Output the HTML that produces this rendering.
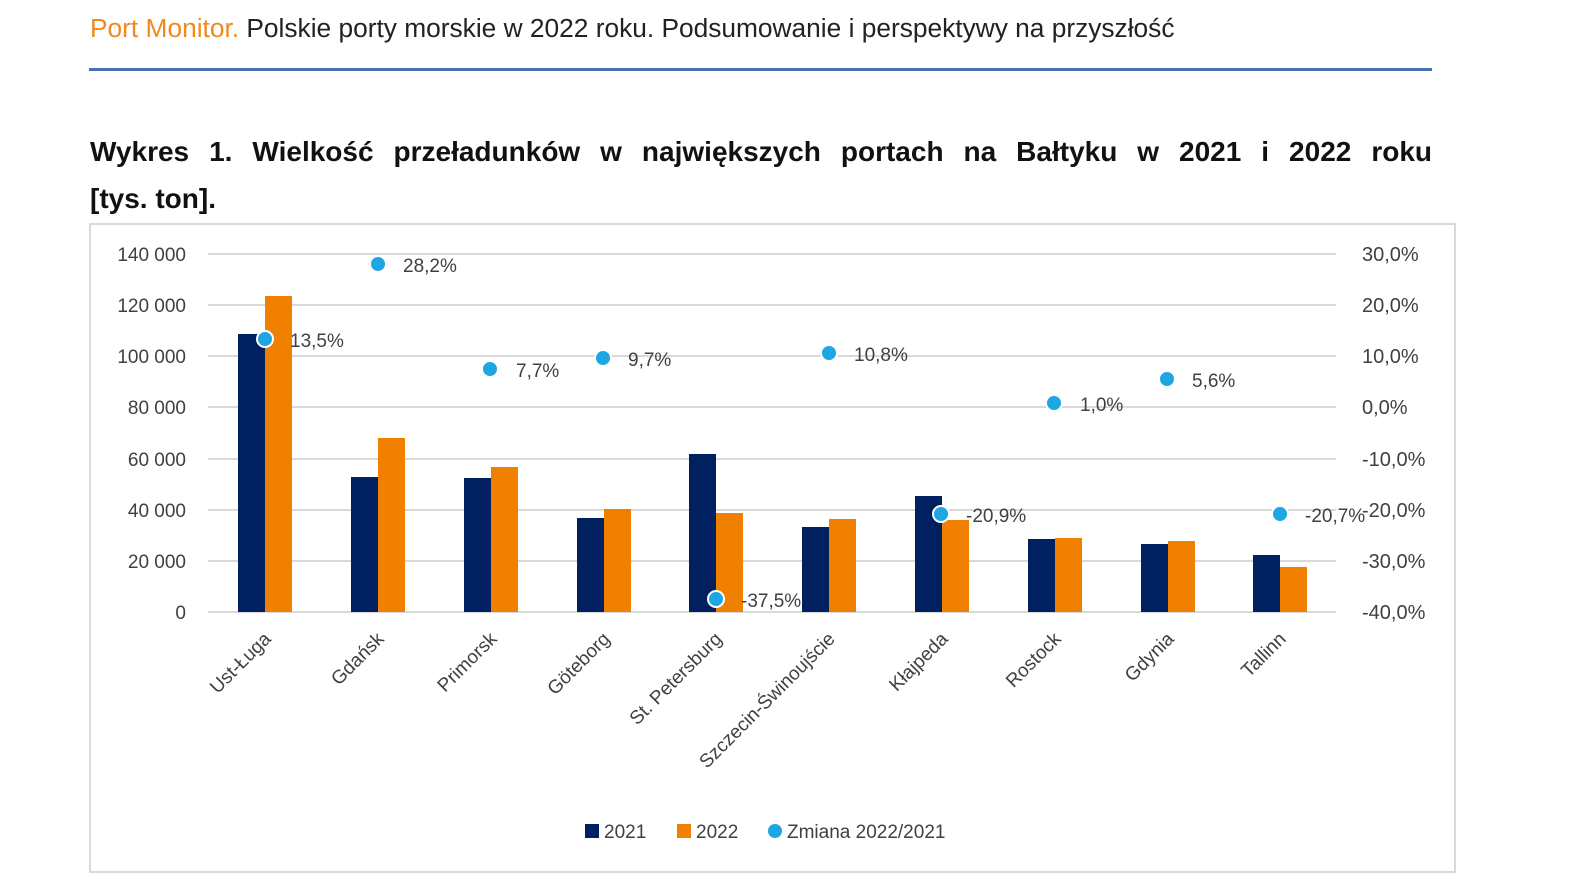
<!DOCTYPE html>
<html><head><meta charset="utf-8"><style>
body{margin:0;background:#fff;width:1587px;height:894px;overflow:hidden;font-family:"Liberation Sans",sans-serif}
.hdr{position:absolute;left:90px;top:13px;font-size:26.3px;color:#222;white-space:nowrap}
.hdr span{color:#f08a1c}
.rule{position:absolute;left:89px;top:68px;width:1343px;height:3px;background:#4a72b0}
.t1{position:absolute;left:90px;top:132px;width:1342px;font-weight:bold;font-size:28px;line-height:40px;text-align:justify;text-align-last:justify;color:#111;white-space:nowrap}
.t2{position:absolute;left:90px;top:179px;font-weight:bold;font-size:28px;line-height:40px;color:#111}
</style></head><body>
<div class="hdr"><span>Port Monitor.</span> Polskie porty morskie w 2022 roku. Podsumowanie i perspektywy na przyszłość</div>
<div class="rule"></div>
<div class="t1">Wykres 1. Wielkość przeładunków w największych portach na Bałtyku w 2021 i 2022 roku</div>
<div class="t2">[tys. ton].</div>
<svg style="position:absolute;left:0;top:0" width="1587" height="894" font-family="Liberation Sans, sans-serif">
<rect x="90" y="224" width="1365" height="648" fill="none" stroke="#d9d9d9" stroke-width="2"/>
<g stroke="#d9d9d9" stroke-width="2">
<line x1="208" x2="1336" y1="254" y2="254"/><line x1="208" x2="1336" y1="305" y2="305"/>
<line x1="208" x2="1336" y1="356" y2="356"/><line x1="208" x2="1336" y1="407" y2="407"/>
<line x1="208" x2="1336" y1="459" y2="459"/><line x1="208" x2="1336" y1="510" y2="510"/>
<line x1="208" x2="1336" y1="561" y2="561"/><line x1="208" x2="1336" y1="612" y2="612"/>
</g>
<g font-size="19" fill="#404040" text-anchor="end">
<text x="186" y="261">140 000</text><text x="186" y="312">120 000</text><text x="186" y="363">100 000</text>
<text x="186" y="414">80 000</text><text x="186" y="466">60 000</text><text x="186" y="517">40 000</text>
<text x="186" y="568">20 000</text><text x="186" y="619">0</text>
</g>
<g font-size="20" fill="#404040">
<text x="1362" y="261">30,0%</text><text x="1362" y="312">20,0%</text><text x="1362" y="363">10,0%</text>
<text x="1362" y="414">0,0%</text><text x="1362" y="466">-10,0%</text><text x="1362" y="517">-20,0%</text>
<text x="1362" y="568">-30,0%</text><text x="1362" y="619">-40,0%</text>
</g>
<g fill="#002060">
<rect x="238" y="334" width="27" height="278"/><rect x="351" y="477" width="27" height="135"/>
<rect x="464" y="478" width="27" height="134"/><rect x="577" y="518" width="27" height="94"/>
<rect x="689" y="454" width="27" height="158"/><rect x="802" y="527" width="27" height="85"/>
<rect x="915" y="496" width="27" height="116"/><rect x="1028" y="539" width="27" height="73"/>
<rect x="1141" y="544" width="27" height="68"/><rect x="1253" y="555" width="27" height="57"/>
</g>
<g fill="#f28000">
<rect x="265" y="296" width="27" height="316"/><rect x="378" y="438" width="27" height="174"/>
<rect x="491" y="467" width="27" height="145"/><rect x="604" y="509" width="27" height="103"/>
<rect x="716" y="513" width="27" height="99"/><rect x="829" y="519" width="27" height="93"/>
<rect x="942" y="520" width="27" height="92"/><rect x="1055" y="538" width="27" height="74"/>
<rect x="1168" y="541" width="27" height="71"/><rect x="1280" y="567" width="27" height="45"/>
</g>
<g fill="#1ea6e3" stroke="#fff" stroke-width="2">
<circle cx="265" cy="339" r="8"/><circle cx="378" cy="264" r="8"/><circle cx="490" cy="369" r="8"/>
<circle cx="603" cy="358" r="8"/><circle cx="716" cy="599" r="8"/><circle cx="829" cy="353" r="8"/>
<circle cx="941" cy="514" r="8"/><circle cx="1054" cy="403" r="8"/><circle cx="1167" cy="379" r="8"/>
<circle cx="1280" cy="514" r="8"/>
</g>
<g font-size="19" fill="#404040">
<text x="290" y="347">13,5%</text><text x="403" y="272">28,2%</text><text x="516" y="377">7,7%</text>
<text x="628" y="366">9,7%</text><text x="741" y="607">-37,5%</text><text x="854" y="361">10,8%</text>
<text x="966" y="522">-20,9%</text><text x="1080" y="411">1,0%</text><text x="1192" y="387">5,6%</text>
<text x="1305" y="522">-20,7%</text>
</g>
<g font-size="19" fill="#404040" text-anchor="end">
<text transform="translate(272,640) rotate(-45)">Ust-Ługa</text>
<text transform="translate(385,640) rotate(-45)">Gdańsk</text>
<text transform="translate(498,640) rotate(-45)">Primorsk</text>
<text transform="translate(611,640) rotate(-45)">Göteborg</text>
<text transform="translate(723,640) rotate(-45)">St. Petersburg</text>
<text transform="translate(836,640) rotate(-45)">Szczecin-Świnoujście</text>
<text transform="translate(949,640) rotate(-45)">Kłajpeda</text>
<text transform="translate(1062,640) rotate(-45)">Rostock</text>
<text transform="translate(1175,640) rotate(-45)">Gdynia</text>
<text transform="translate(1287,640) rotate(-45)">Tallinn</text>
</g>
<g font-size="19" fill="#404040">
<rect x="585" y="824" width="14" height="14" fill="#002060"/><text x="604" y="838">2021</text>
<rect x="677" y="824" width="14" height="14" fill="#f28000"/><text x="696" y="838">2022</text>
<circle cx="775" cy="831" r="7" fill="#1ea6e3"/><text x="787" y="838">Zmiana 2022/2021</text>
</g>
</svg>
</body></html>
